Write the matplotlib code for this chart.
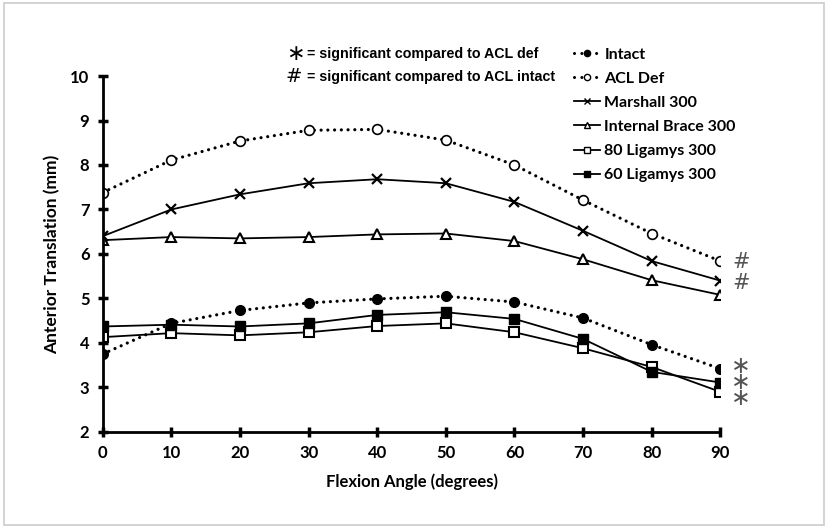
import matplotlib
matplotlib.use("Agg")
import matplotlib.pyplot as plt
from matplotlib.lines import Line2D
from matplotlib.patches import Rectangle

# flexion angles (degrees)
angles = [0, 10, 20, 30, 40, 50, 60, 70, 80, 90]

# anterior translation (mm)
intact = [3.75, 4.44, 4.73, 4.90, 4.99, 5.05, 4.92, 4.56, 3.96, 3.42]
acl_def = [7.38, 8.11, 8.54, 8.78, 8.80, 8.56, 8.00, 7.21, 6.46, 5.84]
marshall = [6.40, 7.00, 7.34, 7.59, 7.68, 7.59, 7.17, 6.52, 5.84, 5.40]
internal_brace = [6.31, 6.38, 6.35, 6.38, 6.44, 6.46, 6.29, 5.88, 5.41, 5.08]
ligamys_80 = [4.13, 4.22, 4.17, 4.24, 4.38, 4.44, 4.24, 3.88, 3.46, 2.90]
ligamys_60 = [4.37, 4.41, 4.37, 4.44, 4.63, 4.69, 4.54, 4.09, 3.35, 3.11]

labels = ["Intact", "ACL Def", "Marshall 300", "Internal Brace 300",
          "80 Ligamys 300", "60 Ligamys 300"]

# significance marks at 90 degrees
hash_y = [5.82, 5.35]
star_y = 3.12   # centre of the stack of three stars

plt.rcParams['font.family'] = ['Lato', 'DejaVu Sans']

fig = plt.figure(figsize=(8.28, 5.28), dpi=100)
ax = fig.add_axes([0.124, 0.182, 0.746, 0.674])

# thin grey frame round the picture
fig.patches.append(Rectangle((0.005, 0.005), 0.99, 0.99, transform=fig.transFigure,
                             fill=False, edgecolor="#cccccc", linewidth=1.2))

dots = (0, (0.01, 2.1))
dot = dict(linestyle=dots, linewidth=2.3, dash_capstyle="round", color="black")
sol = dict(linestyle="-", linewidth=1.3, color="black")

ax.plot(angles, intact, marker="o", markersize=7, markerfacecolor="black",
        markeredgecolor="black", **dot)
ax.plot(angles, acl_def, marker="o", markersize=7, markerfacecolor="white",
        markeredgecolor="black", markeredgewidth=1.2, **dot)
ax.plot(angles, marshall, marker="x", markersize=7, markeredgewidth=1.6, **sol)
ax.plot(angles, internal_brace, marker="^", markersize=7, markerfacecolor="white",
        markeredgecolor="black", markeredgewidth=1.5, **sol)
ax.plot(angles, ligamys_80, marker="s", markersize=6.5, markerfacecolor="white",
        markeredgecolor="black", markeredgewidth=1.5, **sol)
ax.plot(angles, ligamys_60, marker="s", markersize=6.5, markerfacecolor="black",
        markeredgecolor="black", **sol)

ax.set_xlim(0, 90)
ax.set_ylim(2, 10)
ax.set_xticks(angles)
ax.set_yticks(range(2, 11))
for s in ["top", "right"]:
    ax.spines[s].set_visible(False)
for s in ["left", "bottom"]:
    ax.spines[s].set_linewidth(2)
ax.tick_params(direction="inout", length=7, width=2.5, labelsize=12, pad=6)
for t in ax.get_xticklabels() + ax.get_yticklabels():
    t.set_fontweight("bold")

ax.set_xlabel("Flexion Angle (degrees)", fontsize=12, fontweight="bold", labelpad=9)
ax.set_ylabel("Anterior Translation (mm)", fontsize=12.5, fontweight="bold", labelpad=7)

for y in hash_y:
    ax.text(93, y, "#", fontsize=15, color="#555555", ha="center", va="center",
            family="DejaVu Sans")
ax.text(93, star_y, "\u2217\n\u2217\n\u2217", fontsize=17, color="#555555",
        ha="center", va="center", linespacing=0.6, family="DejaVu Sans")

# legend
handles = [
    Line2D([], [], marker="o", markersize=4.5, markerfacecolor="black", markeredgecolor="black",
           linestyle=(0, (0.01, 2.4)), dash_capstyle="round", linewidth=2.2, color="black"),
    Line2D([], [], marker="o", markersize=4.5, markerfacecolor="white", markeredgecolor="black",
           linestyle=(0, (0.01, 2.4)), dash_capstyle="round", linewidth=2.2, color="black"),
    Line2D([], [], marker="x", markersize=4.5, color="black", linewidth=1.3),
    Line2D([], [], marker="^", markersize=4.5, markerfacecolor="white", markeredgecolor="black",
           color="black", linewidth=1.3),
    Line2D([], [], marker="s", markersize=4.5, markerfacecolor="white", markeredgecolor="black",
           color="black", linewidth=1.3),
    Line2D([], [], marker="s", markersize=4.5, markerfacecolor="black", color="black",
           linewidth=1.3),
]
leg = fig.legend(handles, labels, loc="upper left", bbox_to_anchor=(0.676, 0.937),
                 frameon=False, handlelength=1.6, handletextpad=0.3, labelspacing=0.62,
                 prop={"weight": "bold", "size": 11.5})

fig.text(0.345, 0.897, "\u2217", fontsize=16, va="center", ha="left", family="DejaVu Sans")
fig.text(0.371, 0.897, "= significant compared to ACL def", fontsize=10.3,
         fontweight="bold", va="center", ha="left", family="Liberation Sans")
fig.text(0.345, 0.855, "#", fontsize=14, va="center", ha="left", family="DejaVu Sans")
fig.text(0.371, 0.855, "= significant compared to ACL intact", fontsize=10.3,
         fontweight="bold", va="center", ha="left", family="Liberation Sans")

fig.savefig("out.png", dpi=100, facecolor="white")
